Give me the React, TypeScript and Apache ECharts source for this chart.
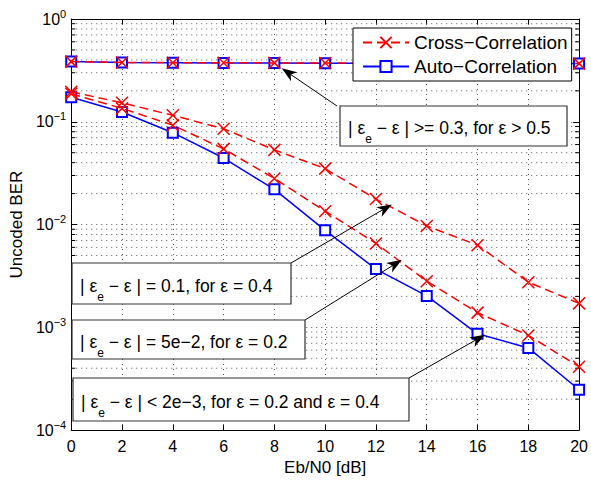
import React, { useEffect, useRef } from 'react';
import * as echarts from 'echarts';

const xValues = [0, 2, 4, 6, 8, 10, 12, 14, 16, 18, 20];
const crossTop = [0.385, 0.378, 0.376, 0.375, 0.374, 0.373, 0.372, 0.371, 0.370, 0.369, 0.368];
const autoTop = [0.385, 0.377, 0.375, 0.374, 0.373, 0.372, 0.371, 0.370, 0.370, 0.369, 0.368];
const cross04 = [0.196, 0.153, 0.1156, 0.0855, 0.0533, 0.035, 0.0177, 0.0097, 0.0063, 0.00275, 0.00171];
const cross02 = [0.187, 0.135, 0.0927, 0.0545, 0.0281, 0.01347, 0.00655, 0.00281, 0.00139, 0.000834, 0.000414];
const autoLow = [0.173, 0.1245, 0.0783, 0.0444, 0.022, 0.00879, 0.00369, 0.00202, 0.000865, 0.00063, 0.000247];

const minorMultipliers = [2, 3, 4, 5, 6, 7, 8, 9];
const decades = [1e-4, 1e-3, 1e-2, 1e-1];

const CROSS = 'Cross−Correlation';
const AUTO = 'Auto−Correlation';

const annotationTexts = [
  ' − ε | >= 0.3, for ε > 0.5',
  ' − ε | = 0.1, for ε = 0.4',
  ' − ε | = 5e−2, for ε = 0.2',
  ' − ε | < 2e−3, for ε = 0.2 and ε = 0.4',
];
// arrow targets in data coordinates [Eb/N0, BER]
const arrowTargets = [
  [8.29, 0.331],
  [12.63, 0.0157],
  [13.02, 0.00454],
  [16.29, 0.000846],
];

const FONT = "'Liberation Sans', Arial, Helvetica, sans-serif";

export default function App() {
  const ref = useRef<HTMLDivElement>(null);
  useEffect(() => {
    const chart = echarts.init(ref.current!, null, { renderer: 'svg' });
    const minorValues: number[] = [];
    decades.forEach((d) => minorMultipliers.forEach((m) => minorValues.push(m * d)));
    const pair = (ys: number[]) => xValues.map((x, i) => [x, ys[i]]);
    const xSym = 'path://M0,0L10,10M10,0L0,10';
    const red = '#ff0000';
    const blue = '#0000ff';
    const crossSeries = (ys: number[]) => ({
      type: 'line',
      name: CROSS,
      data: pair(ys),
      symbol: xSym,
      symbolSize: 12,
      lineStyle: { color: red, width: 1.5, type: [9, 5] },
      itemStyle: { color: red, borderColor: red, borderWidth: 1.5 },
      z: 4,
    });
    const autoSeries = (ys: number[]) => ({
      type: 'line',
      name: AUTO,
      data: pair(ys),
      symbol: 'emptyRect',
      symbolSize: 10,
      lineStyle: { color: blue, width: 1.5 },
      itemStyle: { color: blue, borderColor: blue, borderWidth: 1.5 },
      z: 3,
    });
    const axisTextStyle = { color: '#000', fontFamily: FONT, fontSize: 16 };
    const nameTextStyle = { color: '#000', fontFamily: FONT, fontSize: 17 };
    const gridLine = { show: true, lineStyle: { color: '#555', width: 1, type: [1, 4] } };
    const option: any = {
      animation: false,
      backgroundColor: '#fff',
      grid: { left: 65, top: 19, right: 9, bottom: 45, containLabel: false },
      legend: {
        data: [CROSS, AUTO],
        orient: 'vertical',
        left: 353,
        top: 28,
        z: 20,
        itemWidth: 46,
        itemHeight: 14,
        itemGap: 5,
        padding: [5, 4, 5, 9],
        backgroundColor: '#fff',
        borderColor: '#000',
        borderWidth: 1,
        textStyle: { color: '#000', fontFamily: FONT, fontSize: 19 },
        selectedMode: false,
      },
      xAxis: [
        {
          type: 'value',
          min: 0,
          max: 20,
          interval: 2,
          position: 'bottom',
          name: 'Eb/N0 [dB]',
          nameLocation: 'middle',
          nameGap: 28,
          nameTextStyle,
          axisLine: { onZero: false, lineStyle: { color: '#000', width: 1 } },
          axisTick: { inside: true, length: 5, lineStyle: { color: '#000' } },
          axisLabel: { ...axisTextStyle, margin: 8 },
          splitLine: gridLine,
        },
        {
          type: 'value',
          min: 0,
          max: 20,
          interval: 2,
          position: 'top',
          axisLine: { onZero: false, lineStyle: { color: '#000', width: 1 } },
          axisTick: { inside: true, length: 5, lineStyle: { color: '#000' } },
          axisLabel: { show: false },
          splitLine: { show: false },
        },
      ],
      yAxis: [
        {
          type: 'log',
          logBase: 10,
          min: 1e-4,
          max: 1,
          position: 'left',
          name: 'Uncoded BER',
          nameLocation: 'middle',
          nameGap: 42,
          nameTextStyle,
          axisLine: { onZero: false, lineStyle: { color: '#000', width: 1 } },
          axisTick: { inside: true, length: 6, lineStyle: { color: '#000' } },
          axisLabel: {
            margin: 5,
            formatter: (v: number) => {
              const e = Math.round(Math.log10(v));
              return `{b|10}{s|${e === 0 ? '0' : '−' + -e}}`;
            },
            rich: {
              b: { fontSize: 16, lineHeight: 22, fontFamily: FONT, color: '#000' },
              s: { fontSize: 11, lineHeight: 11, fontFamily: FONT, color: '#000', verticalAlign: 'top' },
            },
          },
          splitLine: gridLine,
        },
        {
          type: 'log',
          logBase: 10,
          min: 1e-4,
          max: 1,
          position: 'right',
          axisLine: { onZero: false, lineStyle: { color: '#000', width: 1 } },
          axisTick: { inside: true, length: 6, lineStyle: { color: '#000' } },
          axisLabel: { show: false },
          splitLine: { show: false },
        },
      ],
      series: [
        {
          type: 'custom',
          name: 'minor',
          silent: true,
          z: 1,
          clip: false,
          data: minorValues.map((v) => [0, v]),
          renderItem: (params: any, api: any) => {
            const v = api.value(1);
            const a = api.coord([0, v]);
            const b = api.coord([20, v]);
            return {
              type: 'group',
              children: [
                { type: 'line', shape: { x1: a[0], y1: a[1], x2: b[0], y2: b[1] }, style: { stroke: '#555', lineWidth: 1, lineDash: [1, 4] } },
                { type: 'line', shape: { x1: a[0], y1: a[1], x2: a[0] + 4, y2: a[1] }, style: { stroke: '#000', lineWidth: 1 } },
                { type: 'line', shape: { x1: b[0] - 4, y1: b[1], x2: b[0], y2: b[1] }, style: { stroke: '#000', lineWidth: 1 } },
              ],
            };
          },
        },
        autoSeries(autoTop),
        autoSeries(autoLow),
        crossSeries(crossTop),
        crossSeries(cross04),
        crossSeries(cross02),
      ],
    };
    chart.setOption(option);

    const boxes = [
      { x: 340, y: 106, w: 227, h: 40, tail: [337, 106] },
      { x: 72, y: 263, w: 219, h: 41, tail: [291, 263] },
      { x: 72, y: 320, w: 233, h: 39, tail: [305, 320] },
      { x: 73, y: 378, w: 336, h: 43, tail: [409, 378] },
    ];
    const graphics: any[] = [];
    boxes.forEach((bx, i) => {
      const tip = chart.convertToPixel({ xAxisIndex: 0, yAxisIndex: 0 }, arrowTargets[i]) as number[];
      const [tx, ty] = bx.tail;
      const dx = tip[0] - tx;
      const dy = tip[1] - ty;
      const len = Math.sqrt(dx * dx + dy * dy);
      const ux = dx / len;
      const uy = dy / len;
      const nx = -uy;
      const ny = ux;
      const L = 15;
      const W = 5.5;
      const bxp = tip[0] - ux * L;
      const byp = tip[1] - uy * L;
      graphics.push({
        type: 'line',
        shape: { x1: tx, y1: ty, x2: tip[0] - ux * 8, y2: tip[1] - uy * 8 },
        style: { stroke: '#000', lineWidth: 1 },
        z: 10,
      });
      graphics.push({
        type: 'polygon',
        shape: {
          points: [
            [tip[0], tip[1]],
            [bxp + nx * W, byp + ny * W],
            [tip[0] - ux * L * 0.72, tip[1] - uy * L * 0.72],
            [bxp - nx * W, byp - ny * W],
          ],
        },
        style: { fill: '#000' },
        z: 10,
      });
      graphics.push({
        type: 'rect',
        shape: { x: bx.x, y: bx.y, width: bx.w, height: bx.h },
        style: { fill: '#fff', stroke: '#333', lineWidth: 1.2 },
        z: 11,
      });
      graphics.push({
        type: 'text',
        x: bx.x + 8,
        y: bx.y + bx.h / 2 + 2,
        style: {
          text: `{b|| ε}{s|e}{b|${annotationTexts[i]}}`,
          verticalAlign: 'middle',
          align: 'left',
          rich: {
            b: { fontSize: 17.5, lineHeight: 34, fontFamily: FONT, fill: '#000' },
            s: { fontSize: 12, lineHeight: 12, fontFamily: FONT, fill: '#000', verticalAlign: 'bottom' },
          },
        },
        z: 12,
      });
    });
    chart.setOption({ graphic: graphics });
    return () => chart.dispose();
  }, []);
  return (
    <div
      ref={ref}
      style={{ position: 'fixed', left: 0, top: 0, width: 591, height: 481, background: '#fff' }}
    />
  );
}
